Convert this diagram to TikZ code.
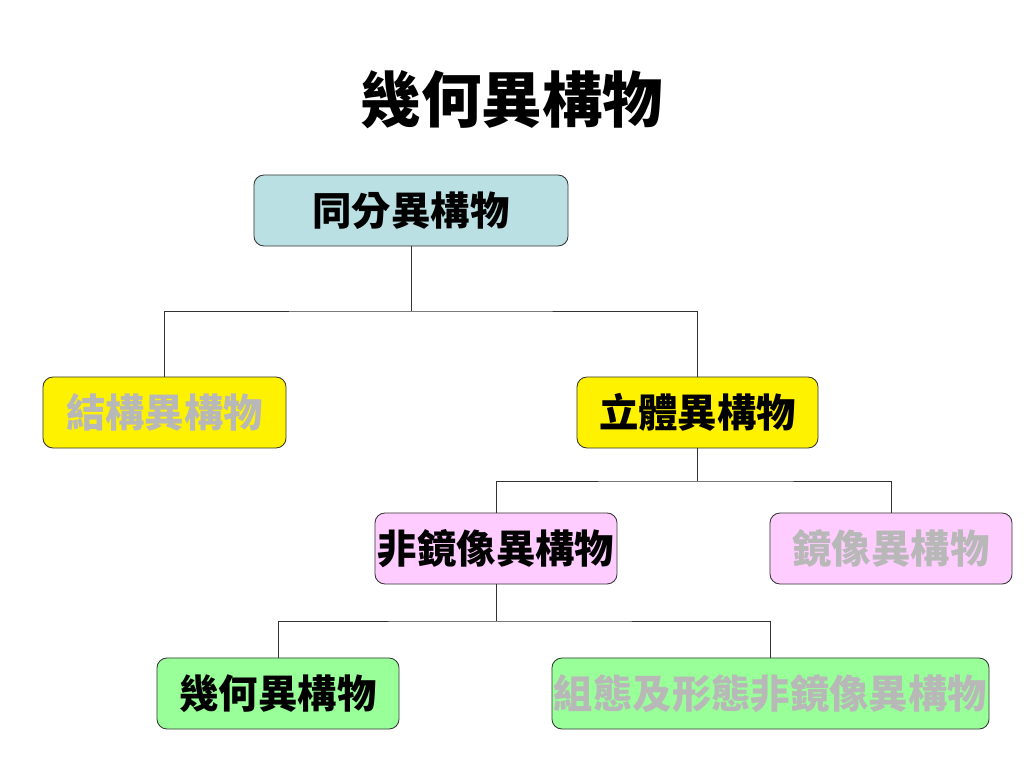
\documentclass[tikz,border=0pt]{standalone}
\usepackage{fontspec}
\newfontfamily\cjk{Noto Sans CJK TC}
\usetikzlibrary{positioning}
\definecolor{boxblue}{HTML}{BBE0E3}
\definecolor{boxpink}{HTML}{FFCCFF}
\definecolor{boxgreen}{HTML}{99FF99}
\definecolor{textgray}{HTML}{B8B8B8}
\tikzset{
  box/.style = {draw = black!80, line width = 0.6pt, rounded corners = 0.25cm,
                minimum height = 1.775cm, inner sep = 0pt,
                font = \cjk\bfseries\fontsize{28}{28}\selectfont},
  link/.style = {line width = 0.6pt, black!80}
}
\begin{document}
\begin{tikzpicture}[x = 0.025cm, y = -0.025cm]
        \useasboundingbox (0,0) rectangle (1024,768);
        \node (title) at (512,100) {\cjk\bfseries\fontsize{43}{43}\selectfont 幾何異構物};
        \node[box, fill = boxblue, minimum width = 7.85cm] (iso) at (411,210.5) {同分異構物};
        \node[box, fill = yellow, minimum width = 6.075cm, text = textgray] (struct) at (164.5,412.5) {結構異構物};
        \node[box, fill = yellow, minimum width = 6.025cm] (stereo) at (697.5,412.5) {立體異構物};
        \node[box, fill = boxpink, minimum width = 6.05cm] (diast) at (496,548.5) {非鏡像異構物};
        \node[box, fill = boxpink, minimum width = 6.05cm, text = textgray] (enant) at (891,548.5) {鏡像異構物};
        \node[box, fill = boxgreen, minimum width = 6.05cm] (geom) at (278,693.5) {幾何異構物};
        \node[box, fill = boxgreen, minimum width = 10.925cm, text = textgray] (conf) at (770.5,693.5) {組態及形態非鏡像異構物};
        % branches
        \coordinate (j1) at (411,311);
        \coordinate (j2) at (697.5,481);
        \coordinate (j3) at (496,621);
        \draw[link] (iso.south) -- (j1);
        \draw[link] (struct.north) |- (j1) -| (stereo.north);
        \draw[link] (stereo.south) -- (j2);
        \draw[link] (diast.north) |- (j2) -| (enant.north);
        \draw[link] (diast.south) -- (j3);
        \draw[link] (geom.north) |- (j3) -| (conf.north);
\end{tikzpicture}
\end{document}
